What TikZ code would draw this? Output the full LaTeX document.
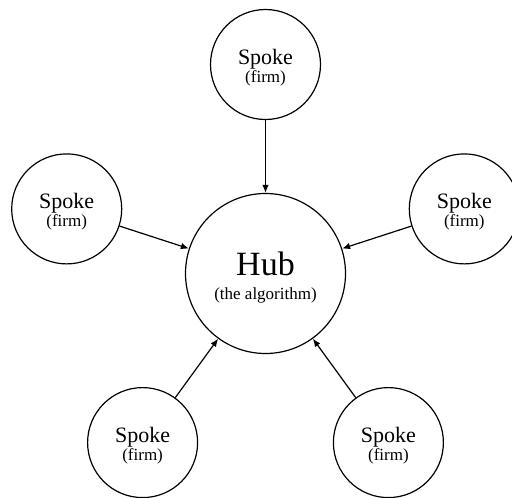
\documentclass[tikz,border=0pt]{standalone}
\usepackage{fontspec}
\setmainfont{Liberation Serif}
\usetikzlibrary{arrows.meta}
\tikzset{
  spoke/.style={circle, draw, line width=1.2pt, minimum size=110pt, inner sep=0pt,
    align=center, font=\fontsize{17}{18}\selectfont},
  hub/.style={circle, draw, line width=1.2pt, minimum size=160pt, inner sep=0pt,
    align=center, font=\fontsize{17}{22}\selectfont},
  link/.style={line width=1.2pt, -{Latex[length=8pt,width=6.5pt]}}
}
% a strut on the first line lowers the two-line label inside its circle
\newcommand{\spoketext}{\rule{0pt}{21pt}{\fontsize{22}{22}\selectfont Spoke}\\[0pt](firm)}
\begin{document}
\begin{tikzpicture}[x=1pt,y=-1pt]
  \useasboundingbox (0,0) rectangle (512,498);
  \clip (0,0) rectangle (512,498);
  \node[hub] (hub) at (265.5,273.5) {\rule{0pt}{31pt}{\fontsize{34}{34}\selectfont Hub}\\[2pt](the algorithm)};
  \node[spoke] (top) at (265.5,64.5) {\spoketext};
  \node[spoke] (left) at (66.7,208.9) {\spoketext};
  \node[spoke] (right) at (464.3,208.9) {\spoketext};
  \node[spoke] (bl) at (142.6,442.6) {\spoketext};
  \node[spoke] (br) at (388.4,442.6) {\spoketext};
  \foreach \s in {top,left,right,bl,br}
    \draw[link] (\s) -- (hub);
\end{tikzpicture}
\end{document}
